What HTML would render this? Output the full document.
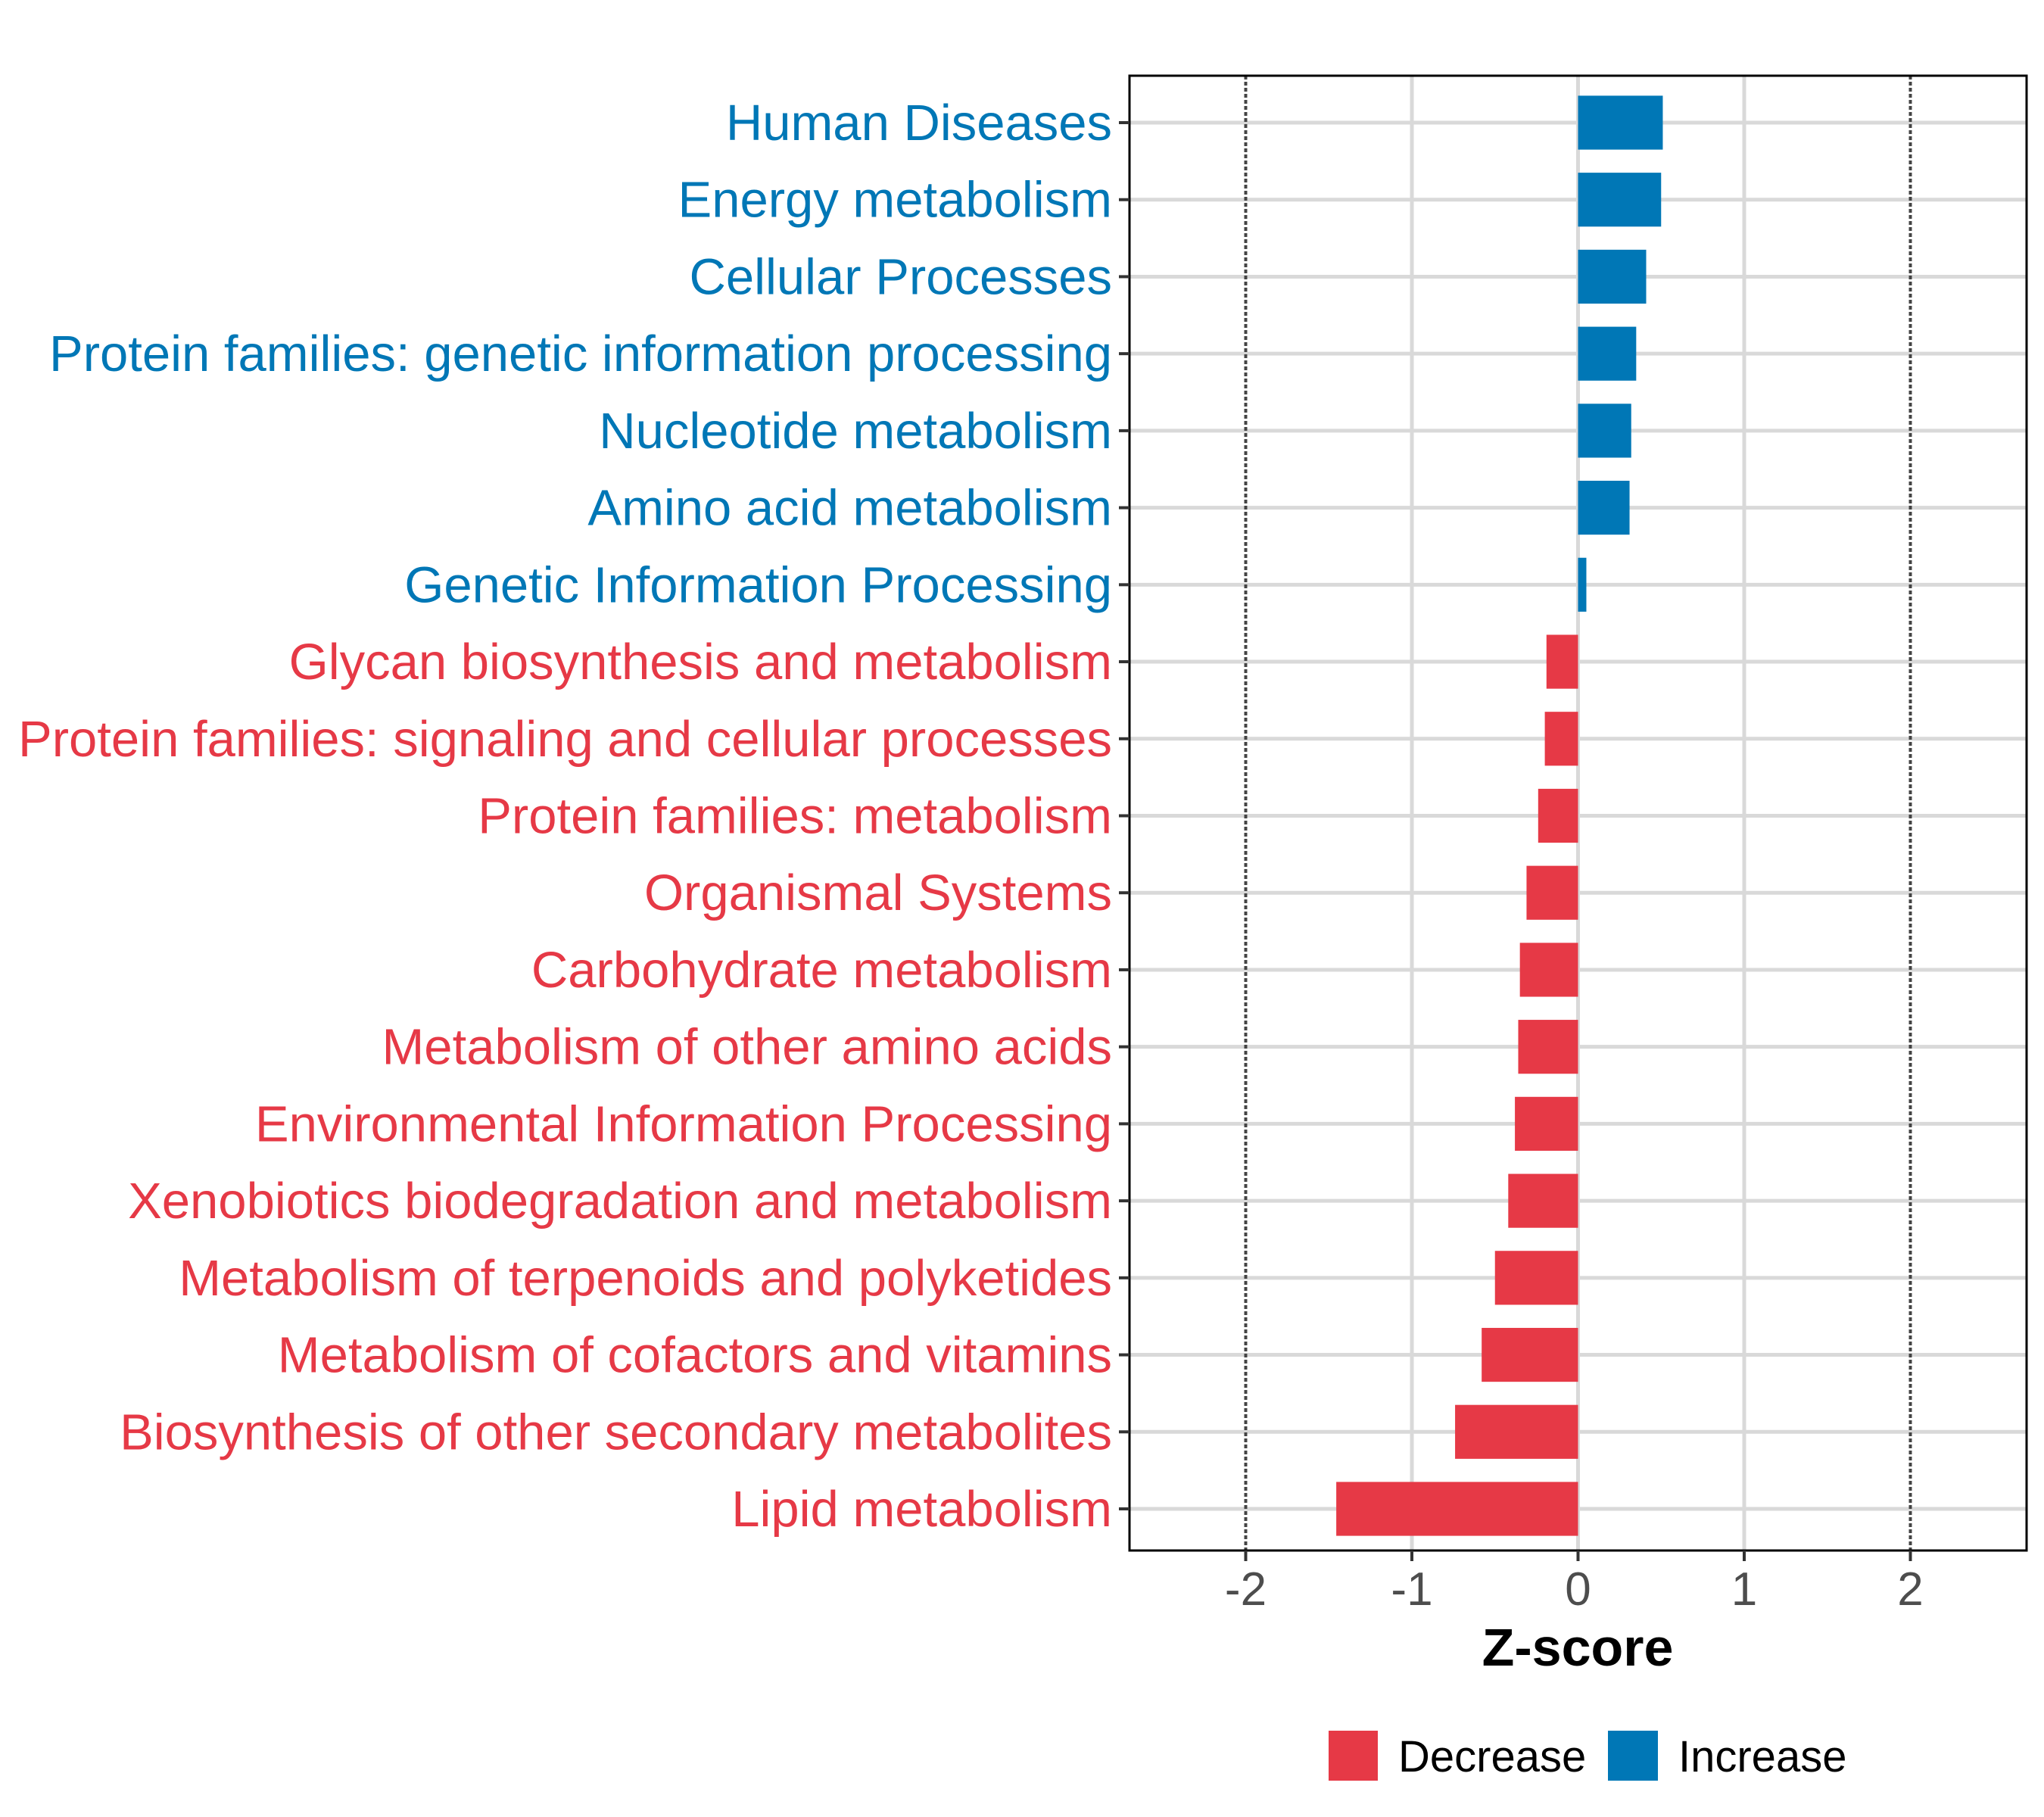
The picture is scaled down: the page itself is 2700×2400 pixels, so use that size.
<!DOCTYPE html>
<html><head><meta charset="utf-8"><style>
html,body{margin:0;padding:0;background:#fff;}
svg{display:block;font-family:"Liberation Sans",Arial,sans-serif;}
</style></head><body>
<svg id="chart" width="2700" height="2400" viewBox="0 0 2700 2400" xmlns="http://www.w3.org/2000/svg">
<rect width="2700" height="2400" fill="#fff"/>
<g id="grid"></g>
<g id="bars"></g>
<g id="refs"></g>
<rect x="1492" y="100" width="1185" height="1948" fill="none" stroke="#000" stroke-width="3"/>
<g id="ylab"></g>
<g id="xlab"></g>
<text x="2084" y="2200" text-anchor="middle" font-size="70" font-weight="bold" fill="#000">Z-score</text>
<g>
<rect x="1755" y="2286" width="65" height="66" fill="#e63946"/>
<text x="1847" y="2340" font-size="58" fill="#000">Decrease</text>
<rect x="2124" y="2286" width="66" height="66" fill="#0077b6"/>
<text x="2217" y="2340" font-size="58" fill="#000">Increase</text>
</g>
</svg>
<script>
const categories = ["Human Diseases","Energy metabolism","Cellular Processes","Protein families: genetic information processing","Nucleotide metabolism","Amino acid metabolism","Genetic Information Processing","Glycan biosynthesis and metabolism","Protein families: signaling and cellular processes","Protein families: metabolism","Organismal Systems","Carbohydrate metabolism","Metabolism of other amino acids","Environmental Information Processing","Xenobiotics biodegradation and metabolism","Metabolism of terpenoids and polyketides","Metabolism of cofactors and vitamins","Biosynthesis of other secondary metabolites","Lipid metabolism"];
const zscores = [0.51,0.50,0.41,0.35,0.32,0.31,0.05,-0.19,-0.20,-0.24,-0.31,-0.35,-0.36,-0.38,-0.42,-0.50,-0.58,-0.74,-1.455];
const xTicks = [-2,-1,0,1,2];
const xTickLabels = ["-2","-1","0","1","2"];
const refLines = [-2,2];

const NS="http://www.w3.org/2000/svg";
const x0=2084.5, unit=219.5;
function xs(v){return x0+v*unit;}
const yTop=162, step=(1993-162)/18;
function ys(i){return yTop+i*step;}
const panelBottom=2048;
function mk(tag,attrs,parent){const e=document.createElementNS(NS,tag);for(const k in attrs)e.setAttribute(k,attrs[k]);parent.appendChild(e);return e;}
const grid=document.getElementById('grid'),bars=document.getElementById('bars'),refs=document.getElementById('refs'),ylab=document.getElementById('ylab'),xlab=document.getElementById('xlab');
xTicks.forEach((t,i)=>{
  if(!refLines.includes(t)){
    const g=mk('line',{x1:xs(t),x2:xs(t),y1:100,y2:panelBottom,stroke:'#d9d9d9','stroke-width':5},grid);
    
    
  }
  const tk=mk('line',{x1:xs(t),x2:xs(t),y1:panelBottom,y2:panelBottom+14,stroke:'#333','stroke-width':4},xlab);
  
  
  const tx=mk('text',{x:xs(t),y:2120,'text-anchor':'middle','font-size':62,fill:'#4d4d4d'},xlab);
  tx.textContent=xTickLabels[i];
  
  
});
categories.forEach((c,i)=>{
  const y=ys(i);
  const gl=mk('line',{x1:1492,x2:2677,y1:y,y2:y,stroke:'#d9d9d9','stroke-width':5},grid);
  
  
  const v=zscores[i];
  const col=v>=0?'#0077b6':'#e63946';
  const h=step*0.7;
  const b=mk('rect',{x:Math.min(xs(0),xs(v)),y:y-h/2,width:Math.abs(xs(v)-xs(0)),height:h,fill:col},bars);
  
  
  const tk=mk('line',{x1:1478,x2:1492,y1:y,y2:y,stroke:'#333','stroke-width':4},ylab);
  
  
  const tx=mk('text',{x:1469,y:y+23,'text-anchor':'end','font-size':67,fill:col},ylab);
  tx.textContent=c;
  
  
});
refLines.forEach(r=>{
  const l=mk('line',{x1:xs(r),x2:xs(r),y1:100,y2:panelBottom,stroke:'#444','stroke-width':4,'stroke-dasharray':'5 3'},refs);
  
  
});
</script>
</body></html>
